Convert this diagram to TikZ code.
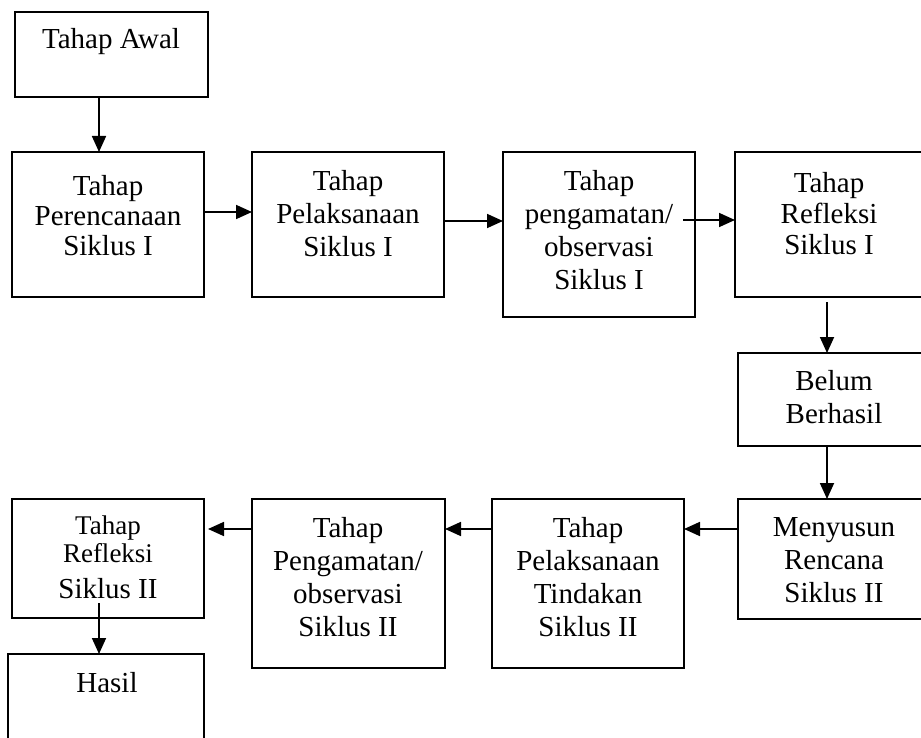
\documentclass[tikz,border=0pt]{standalone}
\usepackage{fontspec}
\setmainfont{Liberation Serif}
\usetikzlibrary{arrows.meta}
\newcommand{\bx}[5]{\node[box, minimum width={#4-#2}, minimum height={#5-#3}] (#1) at ({(#2+#4)/2},{(#3+#5)/2}) {};}
\begin{document}
\begin{tikzpicture}[x=1pt,y=-1pt,
  box/.style={draw, line width=1.8pt, rectangle, inner sep=0pt, outer sep=0pt},
  txt/.style={align=center, inner sep=0pt, anchor=north, font=\fontsize{29}{33}\selectfont},
  arr/.style={line width=1.8pt, -{Triangle[length=16pt,width=14pt]}}]
\useasboundingbox (0,0) rectangle (921,738);
% boxes
\bx{awal}{15}{12}{208}{97}
\bx{peren}{12}{152}{204}{297}
\bx{pelak}{252}{152}{444}{297}
\bx{pengam}{503}{152}{695}{317}
\bx{refla}{735}{152}{924}{297}
\bx{belum}{738}{353}{930}{446}
\bx{susun}{738}{499}{930}{619}
\bx{pelakb}{492}{499}{684}{668}
\bx{pengamb}{252}{499}{445}{668}
\bx{reflb}{12}{499}{204}{618}
\bx{hasil}{8}{654}{204}{770}
% texts
\node[txt] (tawal) at (111,28) {Tahap Awal};
\node[txt, font=\fontsize{29}{30}\selectfont] (tperen) at (108,175) {Tahap\\Perencanaan\\Siklus I};
\node[txt] (tpelak) at (348,170) {Tahap\\Pelaksanaan\\Siklus I};
\node[txt] (tpengam) at (599,170) {Tahap\\pengamatan/\\observasi\\Siklus I};
\node[txt, font=\fontsize{29}{31}\selectfont] (trefla) at (829,172) {Tahap\\Refleksi\\Siklus I};
\node[txt] (tbelum) at (834,370) {Belum\\Berhasil};
\node[txt] (tsusun) at (834,517) {Menyusun\\Rencana\\Siklus II};
\node[txt] (tpelakb) at (588,517) {Tahap\\Pelaksanaan\\Tindakan\\Siklus II};
\node[txt] (tpengamb) at (348,517) {Tahap\\Pengamatan/\\observasi\\Siklus II};
\node[txt, font=\fontsize{27}{28}\selectfont] (treflb) at (108,516) {Tahap\\Refleksi};
\node[txt, anchor=base] (treflbc) at (108,598) {Siklus II};
\node[txt] (thasil) at (107,672) {Hasil};
% arrows
\draw[arr] (awal.south -| 99,0) -- (peren.north -| 99,0);
\draw[arr] (peren.east |- 0,212) -- (pelak.west |- 0,212);
\draw[arr] (pelak.east |- 0,221) -- (pengam.west |- 0,221);
\draw[arr] ([xshift=-12pt]pengam.east |- 0,220) -- (refla.west |- 0,220);
\draw[arr] ([yshift=-5pt]refla.south -| 827,0) -- (belum.north -| 827,0);
\draw[arr] (belum.south -| 827,0) -- (susun.north -| 827,0);
\draw[arr] (susun.west |- 0,529) -- (pelakb.east |- 0,529);
\draw[arr] (pelakb.west |- 0,529) -- (pengamb.east |- 0,529);
\draw[arr] (pengamb.west |- 0,529) -- ([xshift=4pt]reflb.east |- 0,529);
\draw[arr] ([yshift=15pt]reflb.south -| 99,0) -- (hasil.north -| 99,0);
\end{tikzpicture}
\end{document}
